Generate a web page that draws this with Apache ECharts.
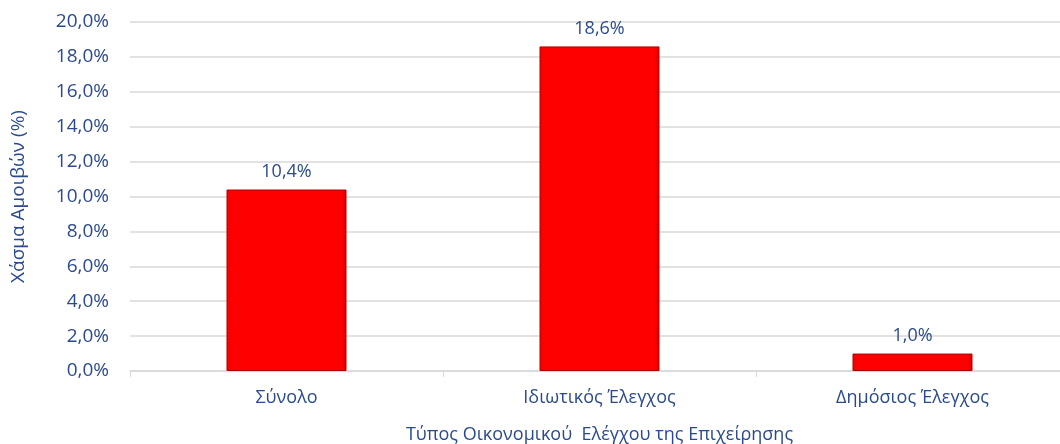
<!DOCTYPE html>
<html>
<head>
<meta charset="utf-8">
<script src="https://cdn.jsdelivr.net/npm/echarts@6/dist/echarts.min.js"></script>
<style>
  html, body { margin: 0; padding: 0; background: #fff; }
  #chart { width: 1060px; height: 444px; }
</style>
</head>
<body>
<div id="chart"></div>
<script>
// data
const categories = ['Σύνολο', 'Ιδιωτικός Έλεγχος', 'Δημόσιος Έλεγχος']
const gapValues = [10.4, 18.6, 1.0]

const textColor = '#2b4a8e'
const font = '"Open Sans", "Noto Sans", sans-serif'
const pct = v => v.toFixed(1).replace('.', ',') + '%'

const chart = echarts.init(document.getElementById('chart'))

chart.setOption({
  animation: false,
  textStyle: { fontFamily: font },
  grid: { left: 130, top: 22, width: 939, height: 349, outerBoundsMode: 'none', containLabel: false },
  xAxis: {
    type: 'category',
    data: categories,
    name: 'Τύπος Οικονομικού  Ελέγχου της Επιχείρησης',
    nameLocation: 'middle',
    nameGap: 55,
    nameTextStyle: { color: textColor, fontSize: 18, fontFamily: font },
    axisLine: { lineStyle: { color: '#d9d9d9', width: 1.5 } },
    axisTick: { show: true, length: 6, lineStyle: { color: '#d9d9d9' } },
    axisLabel: { color: textColor, fontSize: 18, margin: 18, fontFamily: font }
  },
  yAxis: {
    type: 'value',
    min: 0,
    max: 20,
    interval: 2,
    name: 'Χάσμα Αμοιβών (%)',
    nameLocation: 'middle',
    nameRotate: 90,
    nameGap: 102,
    nameTextStyle: { color: textColor, fontSize: 19, fontFamily: font },
    axisLine: { show: false },
    axisTick: { show: false },
    splitLine: { lineStyle: { color: '#d9d9d9', width: 1.5 } },
    axisLabel: { color: textColor, fontSize: 19, margin: 21, fontFamily: font, formatter: v => pct(v) }
  },
  series: [{
    type: 'bar',
    data: gapValues,
    barWidth: 120,
    itemStyle: {
      color: new echarts.graphic.LinearGradient(0, 0, 1, 0, [
        { offset: 0, color: '#f20000' },
        { offset: 0.04, color: '#ff0000' },
        { offset: 0.96, color: '#ff0000' },
        { offset: 1, color: '#d40000' }
      ]),
      borderColor: '#b00000',
      borderWidth: 1
    },
    label: {
      show: true,
      position: 'top',
      distance: 9,
      color: textColor,
      fontSize: 18,
      fontFamily: font,
      formatter: p => pct(p.value)
    }
  }]
})
</script>
</body>
</html>
